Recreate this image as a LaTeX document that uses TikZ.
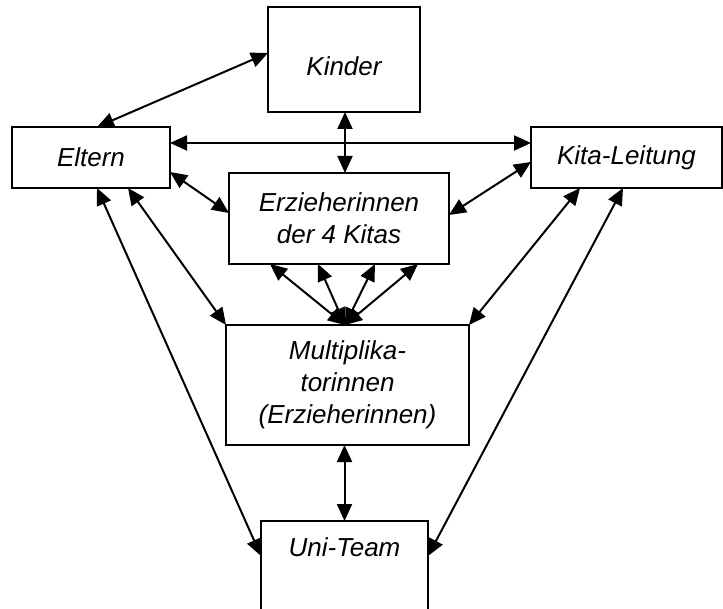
\documentclass[tikz,border=0pt]{standalone}
\usepackage{fontspec}
\setmainfont{Liberation Sans}
\usetikzlibrary{arrows.meta}

\begin{document}
\begin{tikzpicture}[x=1pt, y=-1pt,
    box/.style={draw, line width=2.2pt, inner sep=0pt, outer sep=0pt, align=center,
        font=\fontsize{26pt}{32pt}\selectfont\itshape},
    link/.style={<->, line width=2pt},
    >={Triangle[length=17pt,width=15pt]}]
    \path[use as bounding box] (0,0) rectangle (723,609);

    \node[box, minimum width=152pt, minimum height=105pt, text height=33pt, text depth=0pt] (kinder) at (344,59.5) {Kinder};
    \node[box, minimum width=158pt, minimum height=61pt] (eltern) at (91,157.5) {Eltern};
    \node[box, minimum width=191pt, minimum height=61pt] (leitung) at (626.5,157.5) {Kita-Leitung};
    \node[box, minimum width=220pt, minimum height=91pt] (erz) at (339,218.5) {Erzieherinnen\\der 4 Kitas};
    \node[box, minimum width=243pt, minimum height=120pt] (multi) at (347.5,385) {Multiplika-\\torinnen\\(Erzieherinnen)};
    \node[box, minimum width=167pt, minimum height=130pt, text height=19pt, text depth=79pt] (uni) at (344.5,586) {Uni-Team};

    \draw[link] ([xshift=6pt]eltern.north) -- ([yshift=6.5pt]kinder.west);
    \draw[link] ([yshift=14.5pt]eltern.east) -- ([yshift=14.5pt]leitung.west);
    \draw[link] ([xshift=1pt]kinder.south) -- ([xshift=6pt]erz.north);
    \draw[link] ([yshift=-14.5pt]eltern.east) -- ([yshift=5.5pt]erz.west);
    \draw[link] ([yshift=-4.5pt]leitung.west) -- ([yshift=3.5pt]erz.east);
    \draw[link] ([xshift=37pt]eltern.south) -- (multi.north west);
    \draw[link] ([xshift=6pt]eltern.south) -- ([yshift=-35pt]uni.north west);
    \draw[link] ([xshift=-46.5pt]leitung.south) -- (multi.north east);
    \draw[link] ([xshift=-3.5pt]leitung.south) -- ([yshift=-35pt]uni.north east);
    \draw[link] (uni.north |- multi.south) -- (uni.north);

    % Erzieherinnen <-> Multiplikatorinnen
    \foreach \dx in {-69,-21,36,79}
        \draw[link] ([xshift=\dx pt]erz.south) -- ([xshift=-2.5pt]multi.north);
\end{tikzpicture}
\end{document}
